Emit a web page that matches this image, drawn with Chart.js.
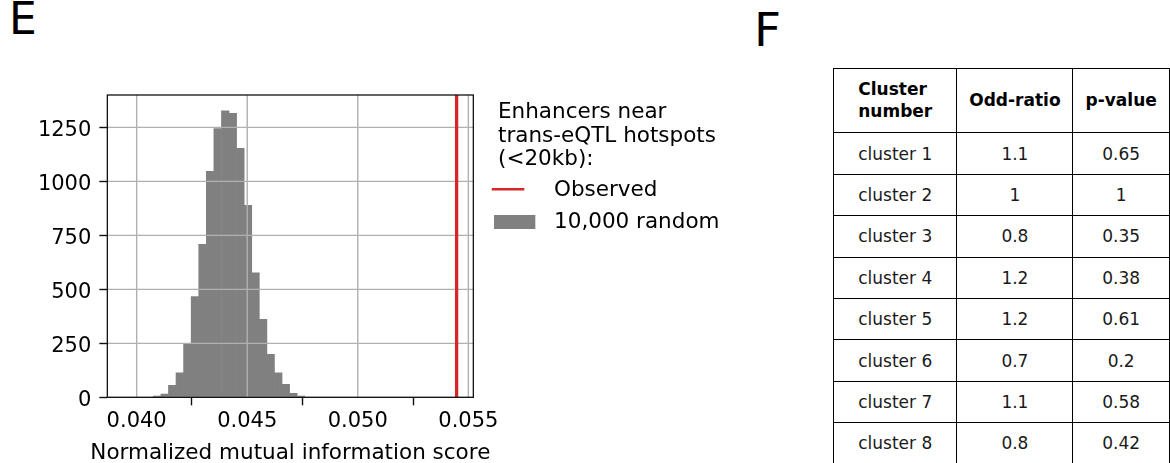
<!DOCTYPE html>
<html>
<head>
<meta charset="utf-8">
<script src="https://cdn.jsdelivr.net/npm/chart.js@4.4.1/dist/chart.umd.min.js"></script>
<style>
  html, body { margin: 0; padding: 0; background: #fff; }
  body { position: relative; width: 1170px; height: 463px; overflow: hidden; font-family: "DejaVu Sans", sans-serif; }
  .panel { position: absolute; font-family: "DejaVu Sans", sans-serif; color: #000; line-height: 1; }
  #panelE { left: 9px; top: -3px; font-size: 44px; }
  #panelF { left: 754px; top: 6px; font-size: 47px; }
  #histWrap { position: absolute; left: 0; top: 0; width: 770px; height: 463px; }
  #stats { position: absolute; left: 833px; top: 68px; border-collapse: collapse; table-layout: fixed; }
  #stats td, #stats th { border: 1.5px solid #000; padding: 0; text-align: center; vertical-align: middle; box-sizing: border-box; }
  #stats th { height: 64.4px; font-weight: bold; font-size: 17px; color: #000; }
  #stats td { height: 41.4px; font-size: 17px; color: #1a1a1a; }
  #stats th .stack { display: inline-block; text-align: left; line-height: 21.7px; }
</style>
</head>
<body>
<div class="panel" id="panelE">E</div>
<div class="panel" id="panelF">F</div>
<div id="histWrap"><canvas id="hist"></canvas></div>
<table id="stats">
  <colgroup><col style="width:125px"><col style="width:118px"><col style="width:98px"></colgroup>
  <thead><tr id="statsHead"></tr></thead>
  <tbody id="statsBody"></tbody>
</table>
<script>
// Null distribution of normalized mutual information: histogram bins (centers) and counts
const binCenters = [0.040923, 0.041266, 0.041608, 0.041951, 0.042293, 0.042636, 0.042978,
  0.043321, 0.043663, 0.044006, 0.044348, 0.044691, 0.045033, 0.045376, 0.045718,
  0.046061, 0.046403, 0.046746, 0.047088, 0.047431];
const binCounts = [6, 15, 56, 114, 247, 466, 708, 1046, 1245, 1327, 1315, 1153, 889, 577,
  361, 199, 114, 60, 19, 6];
// Observed score for enhancers near trans-eQTL hotspots
const observedScore = 0.05447;

// Axis ranges and ticks
const xRange = [0.038673, 0.055226];
const yRange = [0, 1400];
const xTicks = [0.040, 0.045, 0.050, 0.055];
const yTicks = [0, 250, 500, 750, 1000, 1250];

const xTitle = 'Normalized mutual information score';
const legendTitle = ['Enhancers near', 'trans-eQTL hotspots', '(<20kb):'];
const observedLabel = 'Observed';
const randomLabel = '10,000 random';

// Cluster enrichment table
const tableHeaders = [['Cluster', 'number'], ['Odd-ratio'], ['p-value']];
const clusters = ['cluster 1', 'cluster 2', 'cluster 3', 'cluster 4', 'cluster 5', 'cluster 6', 'cluster 7', 'cluster 8'];
const oddRatios = [1.1, 1, 0.8, 1.2, 1.2, 0.7, 1.1, 0.8];
const pValues = [0.65, 1, 0.35, 0.38, 0.61, 0.2, 0.58, 0.42];

// ---- table ----
const headRow = document.getElementById('statsHead');
tableHeaders.forEach(lines => {
  const th = document.createElement('th');
  const span = document.createElement('span');
  span.className = 'stack';
  lines.forEach((l, i) => {
    if (i) span.appendChild(document.createElement('br'));
    span.appendChild(document.createTextNode(l));
  });
  th.appendChild(span);
  headRow.appendChild(th);
});
const body = document.getElementById('statsBody');
clusters.forEach((c, i) => {
  const tr = document.createElement('tr');
  [c, String(oddRatios[i]), String(pValues[i])].forEach(v => {
    const td = document.createElement('td');
    td.textContent = v;
    tr.appendChild(td);
  });
  body.appendChild(tr);
});

// ---- chart ----
const FONT = 'DejaVu Sans';
const CANVAS_W = 770, CANVAS_H = 463;
const AREA = { left: 107.33, right: 473.33, top: 95, bottom: 397.33 };

// Grid drawn over the histogram bars, below the observed line
const gridOverBars = {
  id: 'gridOverBars',
  afterDatasetDraw(chart, args) {
    if (args.meta.type !== 'bar') return;
    const { ctx, chartArea: a, scales: { x, y } } = chart;
    ctx.save();
    ctx.strokeStyle = '#b0b0b0';
    ctx.lineWidth = 1.4;
    ctx.beginPath();
    x.ticks.forEach(t => {
      const px = x.getPixelForValue(t.value);
      ctx.moveTo(px, a.top); ctx.lineTo(px, a.bottom);
    });
    y.ticks.forEach(t => {
      const py = y.getPixelForValue(t.value);
      ctx.moveTo(a.left, py); ctx.lineTo(a.right, py);
    });
    ctx.stroke();
    ctx.restore();
  }
};

// Axes frame on all four sides, plus the x-axis title at its natural width
const frame = {
  id: 'frame',
  afterDraw(chart, _args, opts) {
    const { ctx, chartArea: a } = chart;
    ctx.save();
    ctx.strokeStyle = '#111';
    ctx.lineWidth = 1.3;
    ctx.strokeRect(a.left, a.top, a.right - a.left, a.bottom - a.top);
    ctx.font = opts.titleSize + 'px "' + FONT + '"';
    ctx.fillStyle = '#000';
    ctx.textAlign = 'center';
    ctx.textBaseline = 'alphabetic';
    ctx.fillText(opts.xTitle, (a.left + a.right) / 2, a.bottom + 61.7);
    ctx.restore();
  }
};

// Legend with a multi-line title, placed to the right of the axes
const sideLegend = {
  id: 'sideLegend',
  afterDraw(chart, _args, opts) {
    const { ctx, chartArea: a } = chart;
    const x0 = a.right, y0 = a.top;
    ctx.save();
    ctx.font = opts.fontSize + 'px "' + FONT + '"';
    ctx.fillStyle = '#000';
    ctx.textAlign = 'left';
    ctx.textBaseline = 'alphabetic';
    opts.title.forEach((line, i) => ctx.fillText(line, x0 + 24.7, y0 + 23.3 + i * 23.4));
    chart.data.datasets.forEach((ds, i) => {
      const base = y0 + 101 + i * 32.3;
      if (ds.type === 'line') {
        ctx.strokeStyle = ds.borderColor;
        ctx.lineWidth = 2.4;
        ctx.beginPath();
        ctx.moveTo(x0 + 18.4, base - 6.7);
        ctx.lineTo(x0 + 51, base - 6.7);
        ctx.stroke();
      } else {
        ctx.fillStyle = ds.backgroundColor;
        ctx.fillRect(x0 + 20.7, base - 13.3, 41.3, 14);
      }
      ctx.fillStyle = '#000';
      ctx.fillText(ds.label, x0 + 80.7, base);
    });
    ctx.restore();
  }
};

const tickFont = { family: FONT, size: 21 };

new Chart(document.getElementById('hist'), {
  type: 'bar',
  data: {
    datasets: [
      {
        type: 'line',
        label: observedLabel,
        data: [{ x: observedScore, y: yRange[0] }, { x: observedScore, y: yRange[1] }],
        borderColor: '#d62728',
        borderWidth: 3.3,
        pointRadius: 0,
        fill: false
      },
      {
        type: 'bar',
        label: randomLabel,
        data: binCenters.map((c, i) => ({ x: c, y: binCounts[i] })),
        backgroundColor: '#808080',
        borderWidth: 0,
        barPercentage: 1,
        categoryPercentage: 1
      }
    ]
  },
  options: {
    responsive: true,
    maintainAspectRatio: false,
    animation: false,
    events: [],
    layout: { padding: { top: AREA.top, right: CANVAS_W - AREA.right, bottom: 0, left: 0 } },
    scales: {
      x: {
        type: 'linear',
        offset: false,
        min: xRange[0],
        max: xRange[1],
        afterBuildTicks: s => { s.ticks = xTicks.map(v => ({ value: v })); },
        afterFit: s => { s.height = CANVAS_H - AREA.bottom; },
        ticks: { font: tickFont, color: '#000', padding: 4, maxRotation: 0, autoSkip: false,
                 callback: v => Number(v).toFixed(3) },
        grid: { drawOnChartArea: false, drawTicks: true, tickLength: 8, tickColor: '#111', tickWidth: 1.4 },
        border: { display: false }
      },
      y: {
        type: 'linear',
        min: yRange[0],
        max: yRange[1],
        afterBuildTicks: s => { s.ticks = yTicks.map(v => ({ value: v })); },
        afterFit: s => { s.width = AREA.left; },
        ticks: { font: tickFont, color: '#000', padding: 8, labelOffset: 3, callback: v => String(v) },
        grid: { drawOnChartArea: false, drawTicks: true, tickLength: 8, tickColor: '#111', tickWidth: 1.4 },
        border: { display: false }
      }
    },
    plugins: {
      legend: { display: false },
      tooltip: { enabled: false },
      frame: { xTitle: xTitle, titleSize: 21.5 },
      sideLegend: { title: legendTitle, fontSize: 21.5 }
    }
  },
  plugins: [gridOverBars, frame, sideLegend]
});
</script>
</body>
</html>
